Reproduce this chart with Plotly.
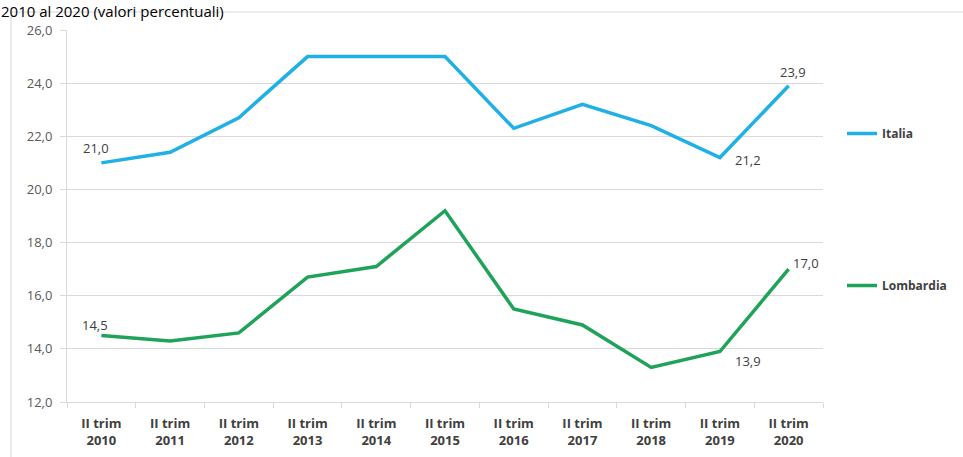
import plotly.graph_objects as go

# Quarterly data (II quarter of each year), percentage values
periods = ["II trim<br>2010", "II trim<br>2011", "II trim<br>2012", "II trim<br>2013",
           "II trim<br>2014", "II trim<br>2015", "II trim<br>2016", "II trim<br>2017",
           "II trim<br>2018", "II trim<br>2019", "II trim<br>2020"]
italia = [21.0, 21.4, 22.7, 25.0, 25.0, 25.0, 22.3, 23.2, 22.4, 21.2, 23.9]
lombardia = [14.5, 14.3, 14.6, 16.7, 17.1, 19.2, 15.5, 14.9, 13.3, 13.9, 17.0]

# Indices of points that carry a value label, with pixel offsets for the label
italia_labels = {0: (-5, 15), 9: (28, -2), 10: (4, 14)}
lombardia_labels = {0: (-6, 11), 9: (28, -9), 10: (17, 6)}

BLUE = "#1fb0e6"
GREEN = "#1fa35b"
GRID = "#d9d9d9"

W, H = 963, 457
ML, MR, MT, MB = 67, 140, 30, 55
PW, PH = W - ML - MR, H - MT - MB


def px_x(px):
    return (px - ML) / PW


def px_y(py):
    return (H - MB - py) / PH


fig = go.Figure()
fig.add_trace(go.Scatter(x=periods, y=italia, mode="lines", name="Italia",
                         line=dict(color=BLUE, width=3.5), legendgroup="it"))
fig.add_trace(go.Scatter(x=periods, y=lombardia, mode="lines", name="Lombardia",
                         line=dict(color=GREEN, width=3.5), legendgroup="lo"))


def fmt(v):
    return f"{v:.1f}".replace(".", ",")


annotations = []
for series, labels in ((italia, italia_labels), (lombardia, lombardia_labels)):
    for i, (dx, dy) in labels.items():
        annotations.append(dict(x=periods[i], y=series[i], xref="x", yref="y",
                                text=fmt(series[i]), showarrow=False,
                                xshift=dx, yshift=dy,
                                font=dict(family="Open Sans", size=13, color="#404040")))

# Title line at the top-left corner of the page
annotations.append(dict(x=px_x(0), y=px_y(0), xref="paper", yref="paper",
                        xanchor="left", yanchor="top", showarrow=False, borderpad=0,
                        text="2010 al 2020 (valori percentuali)",
                        font=dict(family="Open Sans", size=15, color="#000000")))

shapes = [dict(type="rect", xref="paper", yref="paper",
               x0=px_x(11), x1=px_x(W + 10), y0=px_y(H + 10), y1=px_y(12),
               line=dict(color=GRID, width=1), fillcolor="rgba(0,0,0,0)", layer="below")]

fig.update_layout(
    width=W, height=H,
    margin=dict(l=ML, r=MR, t=MT, b=MB, pad=0, autoexpand=False),
    paper_bgcolor="white", plot_bgcolor="white",
    separators=",.",
    annotations=annotations,
    shapes=shapes,
    showlegend=True,
    legend=dict(x=px_x(842), y=px_y(119), xanchor="left", yanchor="top",
                tracegroupgap=133, font=dict(family="Open Sans", size=12, color="#404040",
                                             weight="bold"),
                bgcolor="rgba(0,0,0,0)"),
    xaxis=dict(type="category", range=[-0.5, 10.5], tickson="boundaries",
               ticks="outside", ticklen=5, tickcolor=GRID, showline=True, linecolor=GRID,
               showgrid=False, ticklabelstandoff=9, automargin=False,
               tickfont=dict(family="Open Sans", size=13, color="#404040", weight="bold")),
    yaxis=dict(range=[12, 26], dtick=2, tickformat=".1f", ticks="outside", ticklen=6,
               tickcolor=GRID, showline=True, linecolor=GRID, gridcolor=GRID,
               zeroline=False, ticklabelstandoff=5, automargin=False,
               tickfont=dict(family="Open Sans", size=13, color="#595959")),
)

fig.write_html("out.html")
